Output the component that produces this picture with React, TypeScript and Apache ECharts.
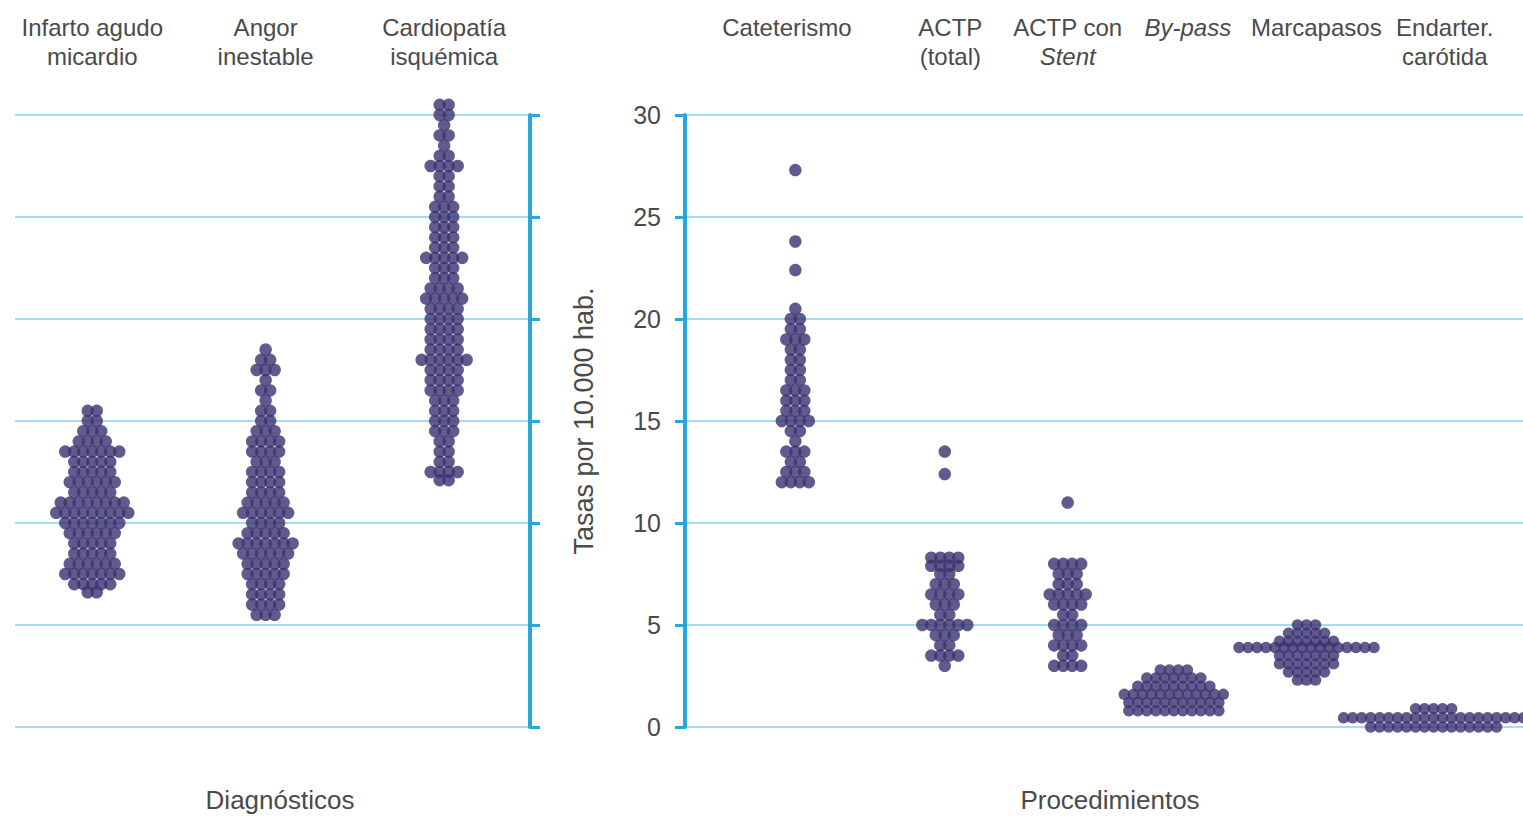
import React, { useEffect, useRef } from 'react';
import * as echarts from 'echarts';

// ---------- data ----------
const diagCategories = ['Infarto agudo\nmicardio', 'Angor\ninestable', 'Cardiopatía\nisquémica'];
const procCategories = ['Cateterismo', 'ACTP\n(total)', 'ACTP con\nStent', 'By-pass', 'Marcapasos', 'Endarter.\ncarótida'];
const italicWords = ['Stent', 'By-pass'];
const yTicks = [0, 5, 10, 15, 20, 25, 30];

// each row: [rate per 10.000 hab., number of dots at that rate]
const infartoRows: [number, number][] = [[15.5, 2], [15.0, 2], [14.5, 3], [14.0, 4], [13.5, 7], [13.0, 5], [12.5, 5], [12.0, 6], [11.5, 5], [11.0, 8], [10.5, 9], [10.0, 7], [9.5, 6], [9.0, 5], [8.5, 5], [8.0, 6], [7.5, 7], [7.0, 5], [6.6, 2]];
const angorRows: [number, number][] = [[18.5, 1], [18.0, 2], [17.5, 3], [17.0, 1], [16.5, 2], [16.0, 1], [15.5, 2], [15.0, 2], [14.5, 3], [14.0, 4], [13.5, 4], [13.0, 3], [12.5, 4], [12.0, 4], [11.5, 4], [11.0, 5], [10.5, 6], [10.0, 4], [9.5, 5], [9.0, 7], [8.5, 6], [8.0, 5], [7.5, 5], [7.0, 4], [6.5, 4], [6.0, 4], [5.5, 3]];
const cardioRows: [number, number][] = [[30.5, 2], [30.0, 2], [29.5, 1], [29.0, 2], [28.5, 1], [28.0, 2], [27.5, 4], [27.0, 2], [26.5, 2], [26.0, 2], [25.5, 3], [25.0, 3], [24.5, 3], [24.0, 3], [23.5, 3], [23.0, 5], [22.5, 3], [22.0, 3], [21.5, 4], [21.0, 5], [20.5, 4], [20.0, 4], [19.5, 4], [19.0, 4], [18.5, 4], [18.0, 6], [17.5, 4], [17.0, 4], [16.5, 4], [16.0, 3], [15.5, 3], [15.0, 3], [14.5, 3], [14.0, 2], [13.5, 2], [13.0, 2], [12.5, 4], [12.1, 2]];

const cateterRows: [number, number][] = [[27.3, 1], [23.8, 1], [22.4, 1], [20.5, 1], [20.0, 2], [19.5, 2], [19.0, 3], [18.5, 2], [18.0, 2], [17.5, 2], [17.0, 2], [16.5, 3], [16.0, 3], [15.5, 3], [15.0, 4], [14.5, 2], [14.0, 1], [13.5, 3], [13.0, 2], [12.5, 3], [12.0, 4]];
const actpRows: [number, number][] = [[13.5, 1], [12.4, 1], [8.3, 4], [7.9, 4], [7.5, 2], [7.0, 3], [6.5, 4], [6.0, 3], [5.5, 2], [5.0, 6], [4.5, 3], [4.0, 2], [3.5, 4], [3.0, 1]];
const stentRows: [number, number][] = [[11.0, 1], [8.0, 4], [7.5, 3], [7.0, 3], [6.5, 5], [6.0, 4], [5.5, 2], [5.0, 4], [4.5, 3], [4.0, 4], [3.5, 2], [3.0, 4]];
const bypassRows: [number, number][] = [[2.8, 4], [2.4, 7], [2.0, 9], [1.6, 12], [1.2, 11], [0.8, 11]];
const marcapasosRows: [number, number][] = [[5.0, 3], [4.6, 5], [4.2, 7], [3.9, 16], [3.5, 7], [3.1, 7], [2.7, 5], [2.3, 3]];
const endarterRows: [number, number][] = [[0.9, 5], [0.45, 21], [0.0, 15]];

const diagRows = [infartoRows, angorRows, cardioRows];
const procRows = [cateterRows, actpRows, stentRows, bypassRows, marcapasosRows, endarterRows];

// ---------- layout ----------
const diagPos = [0.45, 1.46, 2.5];
const procPos = [0.79, 1.86, 2.74, 3.5, 4.45, 5.36];
const procLabelPos = [0.73, 1.9, 2.74, 3.6, 4.52, 5.44];
const DOT_STEP = 9;
const DOT_SIZE = 12.5;

const FONT = "'Liberation Sans Narrow', 'Liberation Sans', Arial, sans-serif";
const TEXT = '#4a4a4a';
const DOT = '#3a3270';
const AXIS = '#29a6de';
const GRID = '#a3dbf0';

function expand(pos: number, rows: [number, number][]) {
  const pts: any[] = [];
  rows.forEach(([v, n]) => {
    for (let i = 0; i < n; i++) {
      pts.push({ value: [pos, v], symbolOffset: [(i - (n - 1) / 2) * DOT_STEP, 0] });
    }
  });
  return pts;
}

function labelFor(positions: number[], names: string[]) {
  return (v: number) => {
    let best = 0;
    positions.forEach((p, i) => {
      if (Math.abs(p - v) < Math.abs(positions[best] - v)) best = i;
    });
    return names[best]
      .split('\n')
      .map((line) => (italicWords.includes(line) ? `{i|${line}}` : `{n|${line}}`))
      .join('\n');
  };
}

const rich = {
  n: { fontSize: 24, fontFamily: FONT, color: TEXT, lineHeight: 29 },
  i: { fontSize: 24, fontFamily: FONT, color: TEXT, lineHeight: 29, fontStyle: 'italic' },
};

export default function App() {
  const ref = useRef<HTMLDivElement>(null);
  useEffect(() => {
    if (!ref.current) return;
    const chart = echarts.init(ref.current, undefined, { renderer: 'svg' });
    const xCommon = {
      type: 'value',
      position: 'top',
      axisLine: { show: false },
      axisTick: { show: false },
      splitLine: { show: false },
    };
    const yCommon = {
      type: 'value',
      min: 0,
      max: 30,
      interval: 5,
      axisLine: { show: true, onZero: false, lineStyle: { color: AXIS, width: 4 } },
      axisTick: { show: true, inside: false, length: 10, lineStyle: { color: AXIS, width: 3 } },
      splitLine: { show: true, lineStyle: { color: GRID, width: 2 } },
    };
    const option: any = {
      animation: false,
      backgroundColor: '#ffffff',
      grid: [
        { left: 15, right: 993, top: 115, bottom: 90 },
        { left: 685, right: 0, top: 115, bottom: 90 },
      ],
      xAxis: [
        {
          ...xCommon,
          gridIndex: 0,
          min: 0,
          max: 3,
          axisLabel: { customValues: diagPos, formatter: labelFor(diagPos, diagCategories), rich, verticalAlign: 'top', margin: 102 },
        },
        {
          ...xCommon,
          gridIndex: 1,
          min: 0,
          max: 6,
          axisLabel: { customValues: procLabelPos, formatter: labelFor(procLabelPos, procCategories), rich, verticalAlign: 'top', margin: 102 },
        },
      ],
      yAxis: [
        { ...yCommon, gridIndex: 0, position: 'right', axisLabel: { show: false } },
        {
          ...yCommon,
          gridIndex: 1,
          position: 'left',
          axisLabel: { show: true, fontSize: 25, fontFamily: FONT, color: TEXT, margin: 24, customValues: yTicks },
          name: 'Tasas por 10.000 hab.',
          nameLocation: 'middle',
          nameRotate: 90,
          nameGap: 88,
          nameTextStyle: { fontSize: 27, fontFamily: FONT, color: TEXT },
        },
      ],
      series: [
        ...diagRows.map((rows, i) => ({
          type: 'scatter',
          xAxisIndex: 0,
          yAxisIndex: 0,
          clip: false,
          symbol: 'circle',
          symbolSize: DOT_SIZE,
          itemStyle: { color: DOT },
          data: expand(diagPos[i], rows),
        })),
        ...procRows.map((rows, i) => ({
          type: 'scatter',
          xAxisIndex: 1,
          yAxisIndex: 1,
          clip: false,
          symbol: 'circle',
          symbolSize: i <= 2 ? DOT_SIZE : 11.5,
          itemStyle: { color: DOT },
          data: expand(procPos[i], rows),
        })),
      ],
      graphic: [
        { type: 'text', x: 280, y: 800, style: { text: 'Diagnósticos', fontSize: 26, fontFamily: FONT, fill: TEXT, textAlign: 'center', textVerticalAlign: 'middle' } },
        { type: 'text', x: 1110, y: 800, style: { text: 'Procedimientos', fontSize: 26, fontFamily: FONT, fill: TEXT, textAlign: 'center', textVerticalAlign: 'middle' } },
      ],
    };
    chart.setOption(option);
    return () => chart.dispose();
  }, []);
  return <div ref={ref} style={{ position: 'fixed', left: 0, top: 0, width: 1523, height: 817 }} />;
}
